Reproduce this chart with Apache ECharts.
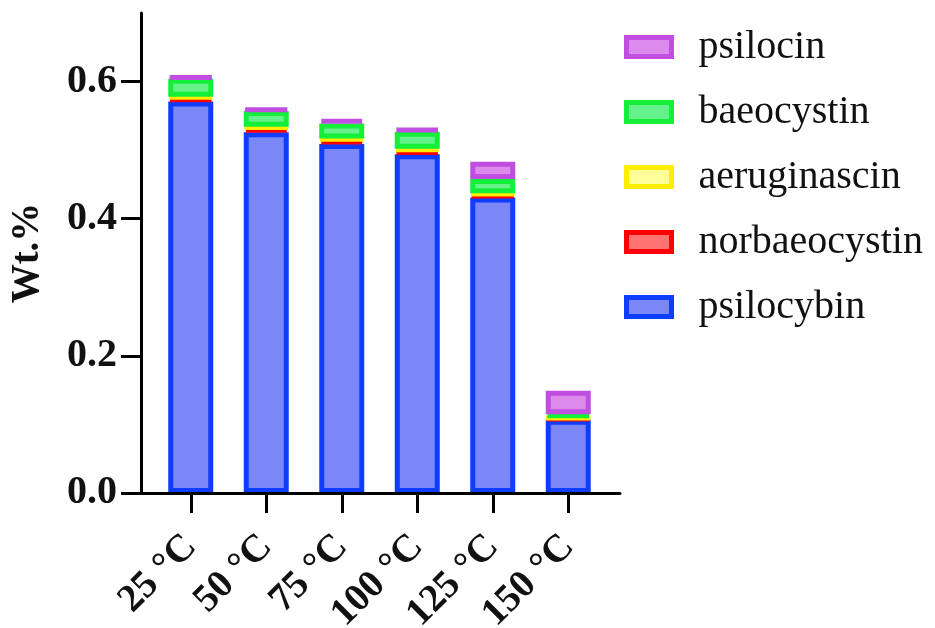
<!DOCTYPE html>
<html>
<head>
<meta charset="utf-8">
<script src="https://cdn.jsdelivr.net/npm/echarts@6/dist/echarts.min.js"></script>
<style>html,body{margin:0;padding:0;background:#fff}#c{width:935px;height:628px}</style>
</head>
<body>
<div id="c"></div>
<script>
const categories = ['25 °C', '50 °C', '75 °C', '100 °C', '125 °C', '150 °C'];
const psilocybin = [0.571, 0.526, 0.509, 0.494, 0.431, 0.107];
const norbaeocystin = [0.005, 0.006, 0.006, 0.005, 0.004, 0.002];
const aeruginascin = [0.002, 0.002, 0.002, 0.003, 0.002, 0.001];
const baeocystin = [0.026, 0.023, 0.022, 0.025, 0.021, 0.005];
const psilocin = [0.004, 0.004, 0.006, 0.005, 0.025, 0.034];
const yTicks = [0, 0.2, 0.4, 0.6];
const legendOrder = ['psilocin', 'baeocystin', 'aeruginascin', 'norbaeocystin', 'psilocybin'];

const seriesDefs = [
  { name: 'psilocybin', data: psilocybin, fill: '#7b86f7', border: '#0f3dff' },
  { name: 'norbaeocystin', data: norbaeocystin, fill: '#ff7373', border: '#ff0000' },
  { name: 'aeruginascin', data: aeruginascin, fill: '#ffff99', border: '#ffee00' },
  { name: 'baeocystin', data: baeocystin, fill: '#66f28a', border: '#14f03a' },
  { name: 'psilocin', data: psilocin, fill: '#dc8aec', border: '#c04ee0' }
];

const serif = '"Liberation Serif"';
const chart = echarts.init(document.getElementById('c'), null, { renderer: 'canvas' });

chart.setOption({
  animation: false,
  backgroundColor: '#ffffff',
  textStyle: { fontFamily: serif },
  grid: [
    { left: 141, top: 13, width: 479, height: 480, outerBoundsMode: 'none' },
    { left: 153, top: 13, width: 453, height: 480, outerBoundsMode: 'none' }
  ],
  legend: {
    orient: 'vertical',
    left: 624,
    top: 27,
    padding: 0,
    icon: 'rect',
    itemWidth: 45,
    itemHeight: 19,
    itemGap: 25,
    itemStyle: { borderWidth: 5 },
    data: legendOrder,
    textStyle: {
      fontFamily: serif,
      fontSize: 40,
      color: '#111',
      lineHeight: 40,
      padding: [0, 0, 0, 22]
    }
  },
  xAxis: [
    {
      type: 'value', gridIndex: 0, min: 0, max: 1, z: 10,
      axisLine: { show: true, lineStyle: { color: '#000', width: 3 } },
      axisTick: { show: false }, axisLabel: { show: false }, splitLine: { show: false }
    },
    {
      type: 'category', gridIndex: 1, data: categories, boundaryGap: true,
      axisLine: { show: false },
      axisTick: { show: true, alignWithLabel: true, length: 20, lineStyle: { color: '#000', width: 3 } },
      axisLabel: {
        rotate: 45, margin: 48, interval: 0,
        fontFamily: serif, fontWeight: 'bold', fontSize: 39, color: '#111'
      },
      splitLine: { show: false }
    }
  ],
  yAxis: [
    {
      type: 'value', gridIndex: 0, min: 0, max: 0.7, interval: 0.1,
      name: 'Wt.%', nameLocation: 'middle', nameGap: 94, nameRotate: 90,
      nameTextStyle: { fontFamily: serif, fontWeight: 'bold', fontSize: 39, color: '#111' },
      axisLine: { show: true, lineStyle: { color: '#000', width: 3 } },
      axisTick: { show: true, length: 20, customValues: yTicks, lineStyle: { color: '#000', width: 3 } },
      axisLabel: {
        customValues: yTicks, margin: 24,
        formatter: v => v.toFixed(1),
        fontFamily: serif, fontWeight: 'bold', fontSize: 40, color: '#111'
      },
      splitLine: { show: false }
    },
    {
      type: 'value', gridIndex: 1, min: 0, max: 0.7, show: false
    }
  ],
  series: seriesDefs.map(s => ({
    name: s.name,
    type: 'bar',
    xAxisIndex: 1,
    yAxisIndex: 1,
    stack: 'total',
    barWidth: 45,
    data: s.data,
    itemStyle: { color: s.fill, borderColor: s.border, borderWidth: 5 }
  }))
});
</script>
</body>
</html>
